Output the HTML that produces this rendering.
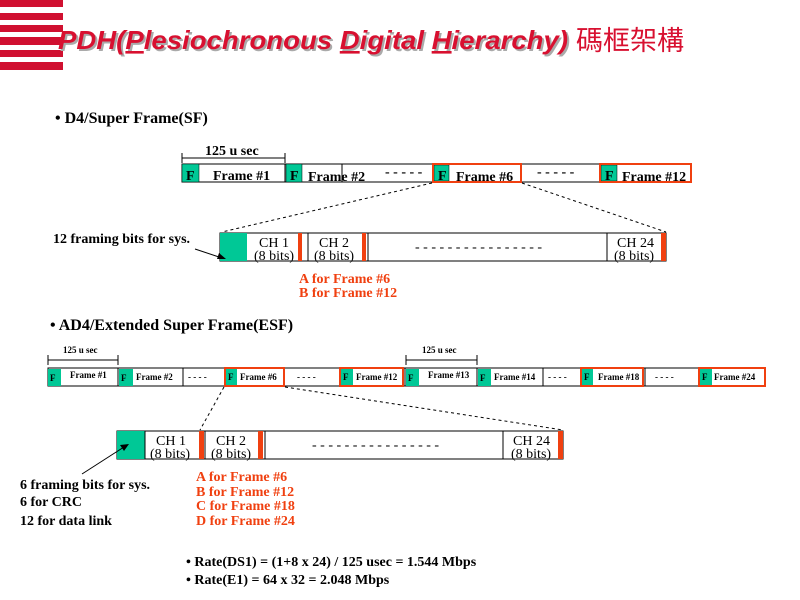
<!DOCTYPE html>
<html><head><meta charset="utf-8"><style>
body{margin:0;background:#fff;width:800px;height:600px;overflow:hidden}
svg{display:block}
text{font-family:"Liberation Serif",serif}
</style></head><body>
<svg width="800" height="600" viewBox="0 0 800 600" xmlns="http://www.w3.org/2000/svg">
<g fill="#d01030">
<rect x="0" y="0" width="63" height="7"/><rect x="0" y="13" width="63" height="7"/><rect x="0" y="25" width="63" height="7"/><rect x="0" y="37" width="63" height="8"/><rect x="0" y="50" width="63" height="7"/><rect x="0" y="62" width="63" height="8"/>
</g>
<text x="60" y="51" font-size="26" font-weight="bold" font-style="italic" fill="#aaa" style="font-family:'Liberation Sans',sans-serif" textLength="510" lengthAdjust="spacingAndGlyphs">PDH(Plesiochronous Digital Hierarchy)</text>
<text x="58" y="49" font-size="26" font-weight="bold" font-style="italic" fill="#d81030" style="font-family:'Liberation Sans',sans-serif" textLength="510" lengthAdjust="spacingAndGlyphs">PDH(<tspan text-decoration="underline">P</tspan>lesiochronous <tspan text-decoration="underline">D</tspan>igital <tspan text-decoration="underline">H</tspan>ierarchy)</text>
<text x="576" y="50" font-size="27" fill="#d81030" style="font-family:'Noto Sans CJK TC',sans-serif">碼框架構</text>

<text x="55" y="123" font-size="16" font-weight="bold">• D4/Super Frame(SF)</text>
<g stroke="#000" stroke-width="1">
<line x1="182" y1="158" x2="285" y2="158"/><line x1="182" y1="153" x2="182" y2="163"/><line x1="285" y1="153" x2="285" y2="163"/>
</g>
<text x="205" y="155" font-size="14" font-weight="bold">125 u sec</text>
<rect x="182" y="164" width="509" height="18" fill="#fff" stroke="#000"/>
<g fill="#00c896" stroke="#000" stroke-width="0.5">
<rect x="182" y="164" width="17" height="18"/><rect x="286" y="164" width="16" height="18"/><rect x="434" y="165" width="15" height="16"/><rect x="601" y="165" width="16" height="16"/>
</g>
<g stroke="#000"><line x1="285" y1="164" x2="285" y2="182"/><line x1="342" y1="164" x2="342" y2="182"/><line x1="521" y1="164" x2="521" y2="182"/></g>
<g font-size="14" font-weight="bold"><text x="186" y="180">F</text><text x="213" y="180">Frame #1</text><text x="290" y="180">F</text><text x="308" y="181">Frame #2</text><text x="385" y="176">- - - - -</text>
<text x="438" y="180">F</text><text x="456" y="181">Frame #6</text><text x="537" y="176">- - - - -</text><text x="605" y="180">F</text><text x="622" y="181">Frame #12</text></g>
<rect x="433" y="164" width="88" height="18" fill="none" stroke="#f04010" stroke-width="2"/>
<rect x="600" y="164" width="91" height="18" fill="none" stroke="#f04010" stroke-width="2"/>
<g stroke="#000" stroke-dasharray="3,3"><line x1="432" y1="183" x2="222" y2="232"/><line x1="522" y1="183" x2="666" y2="232"/></g>
<rect x="220" y="233" width="446" height="28" fill="#fff" stroke="#000"/>
<rect x="220" y="233" width="27" height="28" fill="#00c896"/>
<g fill="#f04010"><rect x="298" y="233" width="4" height="28"/><rect x="362" y="233" width="4" height="28"/><rect x="661" y="233" width="5" height="28"/></g>
<g stroke="#000"><line x1="308" y1="233" x2="308" y2="261"/><line x1="368" y1="233" x2="368" y2="261"/><line x1="607" y1="233" x2="607" y2="261"/></g>
<g font-size="14"><text x="259" y="247">CH 1</text><text x="254" y="260">(8 bits)</text><text x="319" y="247">CH 2</text><text x="314" y="260">(8 bits)</text><text x="617" y="247">CH 24</text><text x="614" y="260">(8 bits)</text>
<text x="415" y="251">- - - - - - - - - - - - - - - -</text>
<text x="53" y="243" font-weight="bold">12 framing bits for sys.</text></g>
<line x1="195" y1="249" x2="222" y2="258" stroke="#000"/><polygon points="226,259 217,259 219,253" fill="#000"/>
<g font-size="14" font-weight="bold" fill="#f04010"><text x="299" y="283">A for Frame #6</text><text x="299" y="297">B for Frame #12</text></g>

<text x="50" y="330" font-size="16" font-weight="bold">• AD4/Extended Super Frame(ESF)</text>
<g stroke="#000"><line x1="48" y1="360" x2="118" y2="360"/><line x1="48" y1="355" x2="48" y2="365"/><line x1="118" y1="355" x2="118" y2="365"/>
<line x1="406" y1="360" x2="477" y2="360"/><line x1="406" y1="355" x2="406" y2="365"/><line x1="477" y1="355" x2="477" y2="365"/></g>
<g font-size="9" font-weight="bold"><text x="63" y="353">125 u sec</text><text x="422" y="353">125 u sec</text></g>
<rect x="48" y="368" width="717" height="18" fill="#fff" stroke="#000"/>
<g fill="#00c896"><rect x="48" y="369" width="13" height="17"/><rect x="119" y="369" width="14" height="17"/><rect x="226" y="369" width="11" height="16"/><rect x="341" y="369" width="12" height="16"/><rect x="406" y="369" width="13" height="17"/><rect x="478" y="369" width="13" height="17"/><rect x="582" y="369" width="11" height="16"/><rect x="700" y="369" width="12" height="16"/></g>
<g stroke="#000"><line x1="118" y1="368" x2="118" y2="386"/><line x1="183" y1="368" x2="183" y2="386"/><line x1="405" y1="368" x2="405" y2="386"/><line x1="477" y1="368" x2="477" y2="386"/><line x1="543" y1="368" x2="543" y2="386"/><line x1="645" y1="368" x2="645" y2="386"/></g>
<g font-size="9" font-weight="bold"><text x="50" y="381">F</text><text x="70" y="378">Frame #1</text><text x="121" y="381">F</text><text x="136" y="380">Frame #2</text><text x="188" y="380">- - - -</text>
<text x="228" y="380">F</text><text x="240" y="380">Frame #6</text><text x="297" y="380">- - - -</text><text x="343" y="380">F</text><text x="356" y="380">Frame #12</text>
<text x="408" y="381">F</text><text x="428" y="378">Frame #13</text><text x="480" y="381">F</text><text x="494" y="380">Frame #14</text><text x="548" y="380">- - - -</text>
<text x="584" y="380">F</text><text x="598" y="380">Frame #18</text><text x="655" y="380">- - - -</text><text x="702" y="380">F</text><text x="714" y="380">Frame #24</text></g>
<g fill="none" stroke="#f04010" stroke-width="2"><rect x="225" y="368" width="59" height="18"/><rect x="340" y="368" width="63" height="18"/><rect x="581" y="368" width="62" height="18"/><rect x="699" y="368" width="66" height="18"/></g>
<g stroke="#000" stroke-dasharray="3,3"><line x1="224" y1="387" x2="200" y2="430"/><line x1="285" y1="387" x2="563" y2="430"/></g>
<rect x="117" y="431" width="446" height="28" fill="#fff" stroke="#000"/>
<rect x="117" y="431" width="28" height="28" fill="#00c896"/>
<g fill="#f04010"><rect x="199" y="431" width="5" height="28"/><rect x="258" y="431" width="5" height="28"/><rect x="558" y="431" width="5" height="28"/></g>
<g stroke="#000"><line x1="145" y1="431" x2="145" y2="459"/><line x1="205" y1="431" x2="205" y2="459"/><line x1="265" y1="431" x2="265" y2="459"/><line x1="503" y1="431" x2="503" y2="459"/></g>
<g font-size="14"><text x="156" y="445">CH 1</text><text x="150" y="458">(8 bits)</text><text x="216" y="445">CH 2</text><text x="211" y="458">(8 bits)</text><text x="513" y="445">CH 24</text><text x="511" y="458">(8 bits)</text>
<text x="312" y="449">- - - - - - - - - - - - - - - -</text></g>
<line x1="82" y1="474" x2="124" y2="447" stroke="#000"/><polygon points="129,444 120,445 124,451" fill="#000"/>
<g font-size="14" font-weight="bold"><text x="20" y="489">6 framing bits for sys.</text><text x="20" y="506">6 for CRC</text><text x="20" y="525">12 for data link</text></g>
<g font-size="14" font-weight="bold" fill="#f04010"><text x="196" y="481">A for Frame #6</text><text x="196" y="496">B for Frame #12</text><text x="196" y="510">C for Frame #18</text><text x="196" y="525">D for Frame #24</text></g>
<g font-size="14" font-weight="bold"><text x="186" y="566">• Rate(DS1) = (1+8 x 24) / 125 usec = 1.544 Mbps</text><text x="186" y="584">• Rate(E1) = 64 x 32 = 2.048 Mbps</text></g>
</svg>
</body></html>
